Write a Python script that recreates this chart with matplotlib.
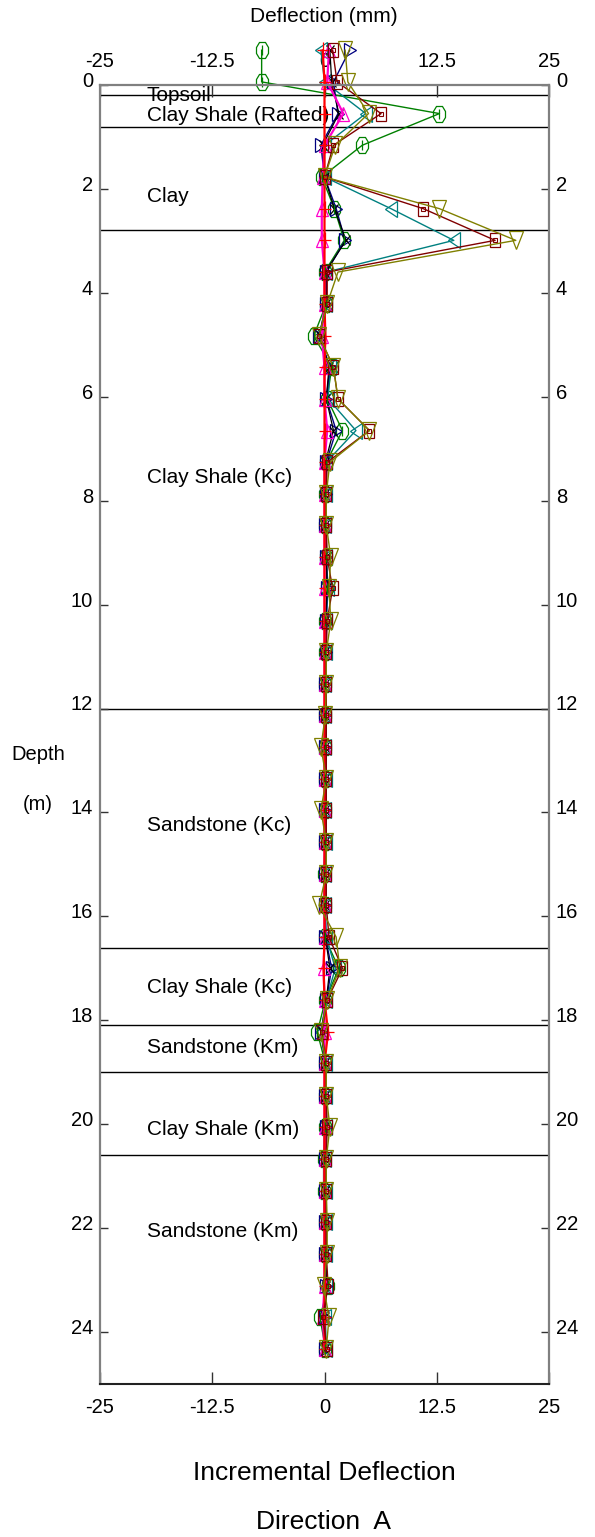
import matplotlib
matplotlib.use('Agg')
import matplotlib.pyplot as plt
from matplotlib.markers import MarkerStyle
from matplotlib.transforms import Affine2D, ScaledTranslation

plt.rcParams['font.family'] = ['Liberation Sans', 'DejaVu Sans']

#%% data (depth in m, incremental deflection in mm)
depth = [-0.67, -0.06, 0.55, 1.16, 1.77, 2.38, 2.99, 3.60, 4.21, 4.83,
         5.43, 6.04, 6.65, 7.26, 7.87, 8.47, 9.09, 9.69, 10.31, 10.91,
         11.52, 12.13, 12.74, 13.35, 13.96, 14.57, 15.18, 15.79, 16.40, 17.00,
         17.61, 18.23, 18.83, 19.45, 20.05, 20.67, 21.28, 21.89, 22.50, 23.11,
         23.72, 24.32]

defl_green = [-7.0, -7.0, 12.8, 4.2, -0.3, 1.1, 2.2, 0.0, 0.2, -1.2,
              0.8, 0.3, 2.0, 0.2, 0.1, 0.1, 0.2, 0.3, 0.1, 0.1,
              0.1, 0.0, 0.1, 0.1, 0.0, 0.1, -0.1, 0.0, 0.0, 1.6,
              0.1, -0.8, 0.1, 0.1, 0.0, -0.1, -0.1, 0.0, 0.0, 0.4,
              -0.5, 0.1]
defl_teal = [-0.4, 0.0, 4.6, 0.0, 0.0, 7.4, 14.4, 0.2, 0.2, -0.6,
             0.6, 0.4, 3.5, 0.2, 0.2, 0.1, 0.2, 0.4, 0.2, 0.2,
             0.1, 0.1, 0.1, 0.2, 0.1, 0.2, 0.1, 0.1, 0.2, 1.2,
             0.2, -0.4, 0.2, 0.2, 0.2, 0.1, 0.2, 0.2, 0.2, 0.2,
             0.1, 0.2]
defl_navy = [2.8, 1.0, 1.5, -0.4, 0.0, 1.3, 2.3, 0.2, 0.2, -0.6,
             0.6, 0.2, 1.3, 0.2, 0.2, 0.1, 0.2, 0.3, 0.2, 0.2,
             0.1, 0.1, 0.1, 0.1, 0.1, 0.1, 0.1, 0.1, 0.1, 0.8,
             0.2, -0.4, 0.1, 0.1, 0.2, 0.1, 0.1, 0.1, 0.1, 0.2,
             0.0, 0.1]
defl_black = [0.6, 0.8, 1.6, -0.2, 0.0, 1.1, 2.4, 0.1, 0.2, -0.5,
              0.5, 0.2, 1.0, 0.1, 0.1, 0.1, 0.2, 0.3, 0.1, 0.1,
              0.1, 0.1, 0.1, 0.1, 0.1, 0.1, 0.1, 0.1, 0.1, 0.6,
              0.2, -0.3, 0.1, 0.1, 0.1, 0.1, 0.1, 0.1, 0.1, 0.2,
              0.0, 0.1]
defl_pink = [0.5, 0.3, 2.1, 0.0, -0.2, -0.3, -0.3, 0.0, 0.0, -0.3,
             0.0, 0.0, 0.3, 0.0, 0.0, 0.0, 0.0, 0.0, 0.0, 0.0,
             0.0, 0.0, 0.0, 0.0, 0.0, 0.0, 0.0, 0.0, 0.0, -0.1,
             0.0, 0.0, 0.0, 0.0, 0.0, 0.0, 0.0, 0.0, 0.0, 0.0,
             -0.2, 0.0]
defl_red = [-0.2, 0.0, 0.0, 0.0, 0.0, 0.0, 0.0, 0.0, 0.0, 0.1,
            0.0, 0.0, 0.0, 0.0, 0.0, 0.0, 0.0, 0.0, 0.0, 0.0,
            0.0, 0.0, 0.0, 0.0, 0.0, 0.0, 0.0, 0.0, 0.0, -0.1,
            0.0, 0.4, 0.0, 0.0, 0.0, 0.0, 0.0, 0.0, 0.0, 0.0,
            0.0, 0.0]
defl_maroon = [0.9, 1.4, 6.3, 1.0, 0.0, 11.0, 19.0, 0.3, 0.3, -0.6,
               1.0, 1.5, 5.0, 0.3, 0.2, 0.2, 0.3, 0.9, 0.3, 0.2,
               0.2, 0.2, 0.2, 0.2, 0.2, 0.2, 0.2, 0.2, 0.5, 2.0,
               0.3, -0.3, 0.2, 0.2, 0.3, 0.2, 0.2, 0.2, 0.2, 0.4,
               -0.2, 0.3]
defl_olive = [2.3, 2.6, 4.9, 1.2, 0.0, 12.8, 21.3, 1.5, 0.3, -0.6,
              1.0, 1.5, 5.0, 0.6, 0.2, 0.2, 0.7, 0.5, 0.7, 0.2,
              0.2, 0.1, -0.4, 0.2, -0.4, 0.2, 0.2, -0.6, 1.3, 1.7,
              0.3, -0.4, 0.2, 0.2, 0.6, 0.2, 0.2, 0.3, 0.3, -0.1,
              0.5, 0.2]

layer_tops = [0.19, 0.8, 2.8, 12.0, 16.6, 18.1, 19.0, 20.6]
layer_names = ['Topsoil', 'Clay Shale (Rafted)', 'Clay', 'Clay Shale (Kc)',
               'Sandstone (Kc)', 'Clay Shale (Kc)', 'Sandstone (Km)',
               'Clay Shale (Km)', 'Sandstone (Km)']
layer_label_depth = [0.2, 0.58, 2.15, 7.56, 14.25, 17.37, 18.52, 20.1, 22.06]

x_ticks = [-25, -12.5, 0, 12.5, 25]
x_ticklabels = ['-25', '-12.5', '0', '12.5', '25']
y_ticks = list(range(0, 25, 2))

#%% figure
fig = plt.figure(figsize=(5.95, 15.37), dpi=100)
ax = fig.add_axes([100/595, 1 - 1384/1537, 449/595, 1299/1537])

# the symbols in the original are a bit taller than wide
tall = Affine2D().scale(1.0, 1.3)
def mk(m):
    return MarkerStyle(m, fillstyle='none', transform=tall)

# series: (values, colour, marker, size, linewidth)
series = [
    (defl_green, '#008000', '8', 10, 1.0),
    (defl_teal, '#008080', '<', 9, 1.0),
    (defl_navy, '#000080', '>', 8, 1.0),
    (defl_black, '#000000', 'x', 6, 0.9),
    (defl_pink, '#ff00cc', '^', 8, 1.6),
    (defl_red, '#ff0000', '+', 9, 1.6),
    (defl_maroon, '#800000', 's', 7.5, 1.0),
    (defl_olive, '#808000', 'v', 10, 1.0),
]
for vals, col, m, ms, lw in series:
    ax.plot(vals, depth, color=col, lw=lw, marker=mk(m), ms=ms,
            mfc='none', mec=col, mew=0.9, clip_on=False)

# little inner marks seen on some symbols
ax.plot(defl_green, depth, ls='none', marker='|', ms=7, mec='#008000',
        mew=0.9, clip_on=False)
ax.plot(defl_maroon, depth, ls='none', marker='s', ms=3, mfc='none',
        mec='#800000', mew=0.8, clip_on=False)

# layer boundaries and names
for d in layer_tops:
    ax.axhline(d, color='black', lw=1.0, zorder=1)
for name, d in zip(layer_names, layer_label_depth):
    ax.text(-19.8, d, name, fontsize=15, ha='left', va='center', zorder=0)

ax.set_xlim(-25, 25)
ax.set_ylim(25, 0)

ax.set_xticks(x_ticks)
ax.set_xticklabels(x_ticklabels)
ax.set_yticks(y_ticks)
ax.tick_params(axis='x', direction='in', length=8.5, width=1, color='#333333',
               top=True, labeltop=True, bottom=True, labelbottom=True,
               labelsize=14.5, pad=10)
ax.tick_params(axis='y', direction='in', length=5.5, width=1, color='#333333',
               left=True, right=True, labelleft=True, labelright=True,
               labelsize=14.5, pad=5)

for side in ['left', 'top', 'right']:
    ax.spines[side].set_color('#808080')
    ax.spines[side].set_linewidth(1.6)
ax.spines['bottom'].set_color('#222222')
ax.spines['bottom'].set_linewidth(1.5)

# depth labels sit a little above their tick in the original
up = ScaledTranslation(0, 4/72, fig.dpi_scale_trans)
for t in ax.yaxis.get_major_ticks():
    t.label1.set_transform(t.label1.get_transform() + up)
    t.label2.set_transform(t.label2.get_transform() + up)

fig.text(324/595, 1 - 17/1537, 'Deflection (mm)', fontsize=15,
         ha='center', va='center')
fig.text(38/595, 1 - 755/1537, 'Depth', fontsize=14.5, ha='center', va='center')
fig.text(38/595, 1 - 805/1537, '(m)', fontsize=14.5, ha='center', va='center')
fig.text(324/595, 1 - 1473/1537, 'Incremental Deflection', fontsize=19,
         ha='center', va='center')
fig.text(324/595, 1 - 1522/1537, 'Direction  A', fontsize=19,
         ha='center', va='center')

fig.savefig('out.png', dpi=100)
